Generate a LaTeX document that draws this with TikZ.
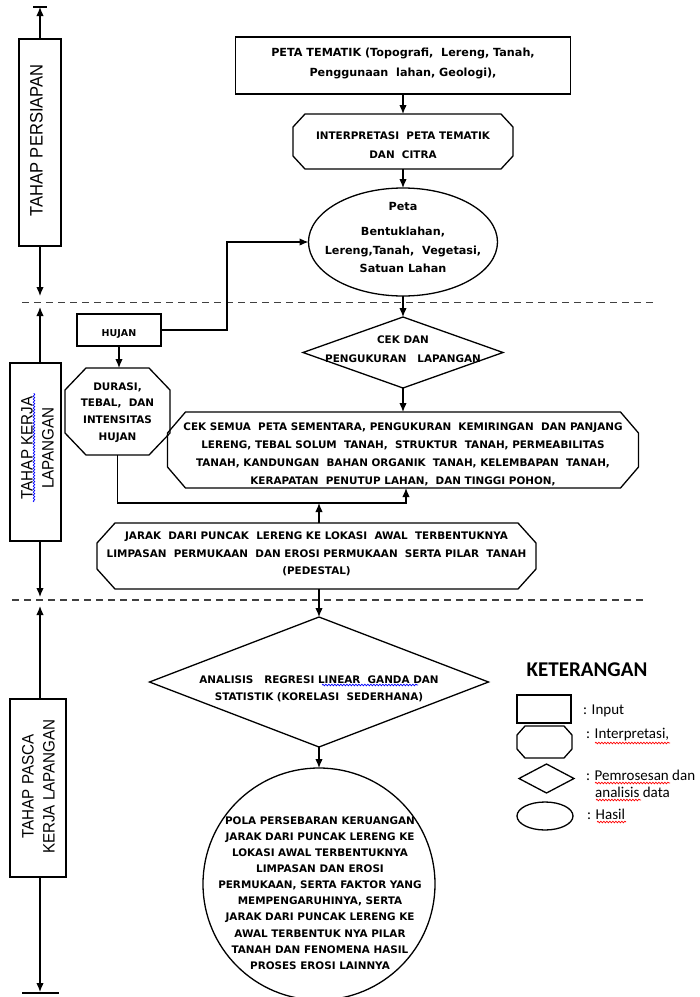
\documentclass[tikz,border=0pt]{standalone}
\usepackage{fontspec}
\setmainfont{DejaVu Sans}
\newfontfamily\lblfont{Liberation Sans}[FakeStretch=0.92]
\newfontfamily\legfont{Carlito}
\usetikzlibrary{arrows.meta,shapes.geometric,calc,decorations.pathmorphing}
\newcommand\octpath[3]{%
  \draw[line width=1.3pt] ($(#1.north west)+(#2pt,0pt)$) -- ($(#1.north east)+(-#2pt,0pt)$)
    -- ($(#1.north east)+(0pt,-#3pt)$) -- ($(#1.south east)+(0pt,#3pt)$)
    -- ($(#1.south east)+(-#2pt,0pt)$) -- ($(#1.south west)+(#2pt,0pt)$)
    -- ($(#1.south west)+(0pt,#3pt)$) -- ($(#1.north west)+(0pt,-#3pt)$) -- cycle;}
\begin{document}
\begin{tikzpicture}[x=1pt,y=-1pt,
  shp/.style={draw, line width=1.3pt, inner sep=0pt, outer sep=0pt},
  box/.style={shp, rectangle},
  ghost/.style={rectangle, inner sep=0pt, outer sep=0pt},
  txt/.style={font=\fontsize{10.4}{#1}\selectfont\bfseries, align=center, inner sep=0pt},
  txt/.default=18,
  txtm/.style={font=\fontsize{11.2}{#1}\selectfont\bfseries, align=center, inner sep=0pt},
  txtm/.default=18,
  arr/.style={line width=1.3pt, -{Latex[length=9pt,width=7.5pt]}},
  ln/.style={line width=1.3pt},
  dashline/.style={line width=1.3pt, dash pattern=on 7pt off 5pt, black!75},
  lbl/.style={font=\lblfont\fontsize{#1}{21}\selectfont, rotate=90, align=center, inner sep=0pt},
  leg/.style={font=\legfont\fontsize{15}{18}\selectfont, anchor=west, inner sep=0pt},
  squig/.style={decorate, decoration={snake, amplitude=0.8pt, segment length=3pt}, line width=0.7pt}
]
\useasboundingbox (0,0) rectangle (700,997);
\fill[white] (0,0) rectangle (700,997);

% ---------- left phase column ----------
\coordinate (ax) at (40,0);
\coordinate (t1l) at (33,7); \coordinate (t1r) at (47,7); \coordinate (t1) at (40,7);
\coordinate (e1) at (40,296);
\coordinate (e2) at (40,307);
\coordinate (e3) at (40,597);
\coordinate (e4) at (40,606);
\coordinate (t2) at (40,992); \coordinate (t2l) at (22,993); \coordinate (t2r) at (59,993);

\node[box, minimum width=42pt, minimum height=207pt] (box1) at (40,142.5) {};
\node[box, minimum width=51pt, minimum height=178pt] (box2) at (35.5,452) {};
\node[box, minimum width=56pt, minimum height=178pt] (box3) at (38,788) {};
\node[lbl=18] (l1) at (36.5,140.5) {TAHAP PERSIAPAN};
\node[lbl=16.5] (l2) at (37.5,448) {TAHAP KERJA\\LAPANGAN};
\node[lbl=16.5] (l3) at (38.5,786.5) {TAHAP PASCA\\KERJA LAPANGAN};
\draw[squig, blue] (34,502) -- (34,393);

\draw[ln] (t1l) -- (t1r);
\draw[ln] (t2l) -- (t2r);
\draw[arr] (box1.north -| ax) -- (t1);
\draw[arr] (box1.south -| ax) -- (e1);
\draw[arr] (box2.north -| ax) -- (e2);
\draw[arr] (box2.south -| ax) -- (e3);
\draw[arr] (box3.north -| ax) -- (e4);
\draw[arr] (box3.south -| ax) -- (t2);

% ---------- dashed separators ----------
\coordinate (d1a) at (22,302.5); \coordinate (d1b) at (655,302.5);
\coordinate (d2a) at (12,600); \coordinate (d2b) at (643,600);
\draw[dashline] (d1a) -- (d1b);
\draw[dashline] (d2a) -- (d2b);

% ---------- main flow shapes ----------
\node[box, minimum width=335pt, minimum height=57pt] (peta) at (403,65.5) {};
\node[ghost, minimum width=220pt, minimum height=55pt] (interp) at (403,141.5) {};
\octpath{interp}{12}{13}
\node[shp, ellipse, minimum width=189pt, minimum height=108pt] (ell1) at (403,242) {};
\node[box, minimum width=84pt, minimum height=32pt] (hujan) at (119,330) {};
\node[ghost, minimum width=105pt, minimum height=87pt] (durasi) at (117.5,411.5) {};
\octpath{durasi}{21}{22}
\node[shp, diamond, minimum width=200pt, minimum height=71pt] (cekdan) at (403,352.5) {};
\node[ghost, minimum width=471pt, minimum height=76pt] (ceksemua) at (403,450) {};
\octpath{ceksemua}{18}{21}
\node[ghost, minimum width=439pt, minimum height=66pt] (jarak) at (316.5,556) {};
\octpath{jarak}{18}{20}
\node[shp, diamond, minimum width=339pt, minimum height=130pt] (analisis) at (319,682) {};
\node[shp, ellipse, minimum width=232pt, minimum height=232pt] (ell2) at (319,884) {};

% ---------- texts ----------
\node[txtm=20] (tpeta) at (403,63.5) {PETA TEMATIK (Topografi,\ \ Lereng,\ Tanah,\\Penggunaan\ \ lahan,\ Geologi),};
\node[txt=19] (tinterp) at (403,145.5) {INTERPRETASI\ \ PETA TEMATIK\\DAN\ \ CITRA};
\node[txtm] (tpeta2) at (403,206) {Peta};
\node[txtm=18.5] (tell1) at (403,250) {Bentuklahan,\\Lereng,Tanah,\ \ Vegetasi,\\Satuan Lahan};
\node[txt] (thujan) at (119,333.5) {\fontsize{9.5}{12}\selectfont HUJAN};
\node[txt=16.7] (tdurasi) at (117.5,412.5) {DURASI,\\TEBAL,\ \ DAN\\INTENSITAS\\HUJAN};
\node[txt=19] (tcekdan) at (403,349) {CEK DAN\\PENGUKURAN\ \ \ LAPANGAN};
\node[txt=18] (tceksemua) at (403,454.5) {CEK SEMUA\ \ PETA SEMENTARA,\ PENGUKURAN\ \ KEMIRINGAN\ \ DAN PANJANG\\LERENG,\ TEBAL SOLUM\ \ TANAH,\ \ STRUKTUR\ \ TANAH,\ PERMEABILITAS\\TANAH,\ KANDUNGAN\ \ BAHAN ORGANIK\ \ TANAH,\ KELEMBAPAN\ \ TANAH,\\KERAPATAN\ \ PENUTUP LAHAN,\ \ DAN TINGGI POHON,};
\node[txt=17.8] (tjarak) at (316.5,554) {JARAK\ \ DARI PUNCAK\ \ LERENG KE LOKASI\ \ AWAL\ \ TERBENTUKNYA\\LIMPASAN\ \ PERMUKAAN\ \ DAN EROSI PERMUKAAN\ \ SERTA PILAR\ \ TANAH\\(PEDESTAL)};
\node[txt=17] (tanalisis) at (319,689) {ANALISIS\ \ \ REGRESI LINEAR\ \ GANDA DAN\\STATISTIK (KORELASI\ \ SEDERHANA)};
\draw[squig, blue] (322,685) -- (418,685);
\node[txt=16.1] (tell2) at (320,893) {POLA PERSEBARAN KERUANGAN\\JARAK DARI PUNCAK LERENG KE\\LOKASI AWAL TERBENTUKNYA\\LIMPASAN DAN EROSI\\PERMUKAAN, SERTA FAKTOR YANG\\MEMPENGARUHINYA, SERTA\\JARAK DARI PUNCAK LERENG KE\\AWAL TERBENTUK NYA PILAR\\TANAH DAN FENOMENA HASIL\\PROSES EROSI LAINNYA};

% ---------- connectors ----------
\coordinate (bend) at (227,0);
\coordinate (jn) at (406,503);
\coordinate (col2) at (319,0);
\draw[arr] (peta.south) -- (interp.north);
\draw[arr] (interp.south) -- (ell1.north);
\draw[arr] (ell1.south) -- (cekdan.north);
\draw[arr] (cekdan.south) -- (ceksemua.north);
\draw[arr] (hujan.east) -- (hujan.east -| bend) |- (ell1.west);
\draw[arr] (hujan.south) -- (hujan.south |- durasi.north);
\draw[arr] (durasi.south) |- (jn) -- (jn |- ceksemua.south);
\draw[arr] (jarak.north -| col2) -- (col2 |- jn);
\draw[arr] (jarak.south -| col2) -- (analisis.north);
\draw[arr] (analisis.south) -- (ell2.north);

% ---------- legend ----------
\node[font=\legfont\bfseries\fontsize{21}{24}\selectfont, inner sep=0pt] (ket) at (587,670) {KETERANGAN};
\node[box, minimum width=54pt, minimum height=28pt] (lrect) at (544,709) {};
\node[ghost, minimum width=55pt, minimum height=32pt] (lhex) at (544.5,742) {};
\octpath{lhex}{8}{9}
\node[shp, diamond, minimum width=55pt, minimum height=29pt] (ldia) at (546.5,778.5) {};
\node[shp, ellipse, minimum width=56pt, minimum height=28pt] (lell) at (545,816) {};
\node[leg] (tin) at (583,711) {: Input};
\node[leg] (tint) at (586,735) {: Interpretasi,};
\node[leg] (tpem) at (586,775) {: Pemrosesan dan};
\node[leg] (tana) at (595,792) {analisis data};
\node[leg] (thas) at (587,814) {: Hasil};
\draw[squig, red] (595,743) -- (670,743);
\draw[squig, red] (595,783) -- (670,783);
\draw[squig, red] (596,800) -- (641,800);
\draw[squig, red] (597,822) -- (626,822);
\end{tikzpicture}
\end{document}
